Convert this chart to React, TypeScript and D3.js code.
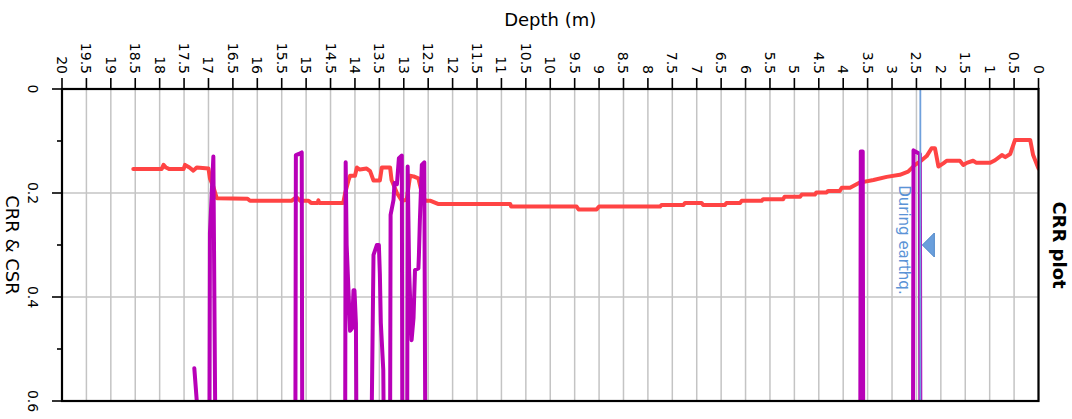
import React from "react";
import * as d3 from "d3";

// ---- Data ----
const depthTicks: number[] = [20, 19.5, 19, 18.5, 18, 17.5, 17, 16.5, 16, 15.5, 15, 14.5, 14, 13.5, 13, 12.5, 12, 11.5, 11, 10.5, 10, 9.5, 9, 8.5, 8, 7.5, 7, 6.5, 6, 5.5, 5, 4.5, 4, 3.5, 3, 2.5, 2, 1.5, 1, 0.5, 0];
const valueMajorTicks: number[] = [0, 0.2, 0.4, 0.6];
const valueMinorTicks: number[] = [0.1, 0.3, 0.5];
const valueGrid: number[] = [0.2, 0.4];

// CRR (red): [depth, value]
const crrDepth: number[] = [18.54, 17.96, 17.92, 17.87, 17.8, 17.51, 17.48, 17.39, 17.31, 17.24, 17.0, 16.97, 16.9, 16.83, 16.2, 16.15, 15.3, 15.2, 15.12, 14.95, 14.9, 14.76, 14.75, 14.73, 14.24, 14.2, 14.13, 14.1, 14.0, 13.96, 13.9, 13.76, 13.69, 13.62, 13.49, 13.45, 13.28, 13.25, 13.14, 13.04, 12.94, 12.87, 12.8, 12.7, 12.63, 12.56, 12.45, 12.3, 10.82, 10.8, 9.46, 9.42, 9.05, 9.0, 7.75, 7.72, 7.27, 7.24, 6.9, 6.87, 6.42, 6.39, 6.11, 6.08, 5.67, 5.64, 5.23, 5.2, 4.88, 4.85, 4.58, 4.55, 4.34, 4.31, 4.07, 4.03, 3.86, 3.66, 3.38, 3.11, 2.84, 2.67, 2.53, 2.43, 2.29, 2.19, 2.12, 2.05, 1.95, 1.88, 1.61, 1.54, 1.47, 1.34, 1.27, 0.99, 0.89, 0.75, 0.68, 0.58, 0.48, 0.17, 0.11, 0.0];
const crrValue: number[] = [0.154, 0.154, 0.146, 0.151, 0.154, 0.154, 0.146, 0.151, 0.157, 0.151, 0.153, 0.172, 0.188, 0.21, 0.211, 0.215, 0.215, 0.208, 0.215, 0.215, 0.219, 0.219, 0.214, 0.219, 0.219, 0.2, 0.175, 0.167, 0.167, 0.151, 0.155, 0.153, 0.158, 0.176, 0.176, 0.151, 0.151, 0.175, 0.2, 0.215, 0.213, 0.167, 0.168, 0.172, 0.2, 0.215, 0.215, 0.221, 0.221, 0.226, 0.226, 0.2315, 0.2315, 0.226, 0.226, 0.223, 0.223, 0.219, 0.219, 0.223, 0.223, 0.219, 0.219, 0.215, 0.215, 0.212, 0.212, 0.207, 0.207, 0.203, 0.203, 0.199, 0.199, 0.196, 0.196, 0.19, 0.19, 0.18, 0.175, 0.169, 0.165, 0.159, 0.146, 0.14, 0.129, 0.114, 0.114, 0.149, 0.143, 0.138, 0.138, 0.146, 0.142, 0.138, 0.142, 0.142, 0.137, 0.127, 0.131, 0.125, 0.098, 0.098, 0.127, 0.153];

// CSR (purple): [depth, value]; values above 0.6 fall outside the plot
const csrDepth: number[] = [17.29, 17.2, 16.98, 16.97, 16.9, 16.86, 15.22, 15.21, 15.15, 15.09, 15.08, 14.2, 14.19, 14.17, 14.1, 14.06, 14.03, 14.01, 13.98, 13.97, 13.66, 13.62, 13.55, 13.51, 13.49, 13.47, 13.42, 13.41, 13.28, 13.27, 13.21, 13.19, 13.14, 13.1, 13.04, 13.03, 12.93, 12.92, 12.89, 12.84, 12.8, 12.77, 12.7, 12.69, 12.67, 12.63, 12.58, 12.56, 3.65, 3.64, 3.6, 3.59, 2.57, 2.56, 2.43, 2.42];
const csrValue: number[] = [0.537, 0.65, 0.65, 0.277, 0.13, 0.65, 0.65, 0.127, 0.125, 0.122, 0.65, 0.65, 0.141, 0.3, 0.465, 0.46, 0.387, 0.387, 0.45, 0.65, 0.65, 0.319, 0.3, 0.3, 0.355, 0.45, 0.54, 0.65, 0.65, 0.242, 0.213, 0.181, 0.183, 0.133, 0.128, 0.65, 0.65, 0.149, 0.351, 0.483, 0.44, 0.348, 0.345, 0.32, 0.252, 0.146, 0.141, 0.65, 0.65, 0.12, 0.12, 0.65, 0.65, 0.118, 0.125, 0.65];

const quakeDepth = 2.42;
const quakeMarkerValue = 0.3;
const quakeLabel = "During earthq.";

const W = 1072;
const H = 419;
const FONT = "'DejaVu Sans', Verdana, sans-serif";

export default function App() {
  const left = 62, right = 1038.5, top = 89, bottom = 401;
  const x = d3.scaleLinear().domain([20, 0]).range([left, right]);
  const y = d3.scaleLinear().domain([0, 0.6]).range([top, bottom]);

  const crr: [number, number][] = crrDepth.map((d, i) => [d, crrValue[i]]);
  const csr: [number, number][] = csrDepth.map((d, i) => [d, csrValue[i]]);
  const line = d3.line<[number, number]>().x((p) => x(p[0])).y((p) => y(p[1]));

  const qx = x(quakeDepth);
  const qy = y(quakeMarkerValue);

  return (
    <svg width={W} height={H} style={{ position: "absolute", left: 0, top: 0, display: "block", background: "#fff" }} fontFamily={FONT}>
      <defs>
        <clipPath id="plotclip">
          <rect x={left} y={top} width={right - left} height={bottom - top} />
        </clipPath>
      </defs>
      {/* grid */}
      {depthTicks.map((t) => (
        <line key={"gx" + t} x1={x(t)} x2={x(t)} y1={top} y2={bottom} stroke="#c4c4c4" strokeWidth={1.5} />
      ))}
      {valueGrid.map((t) => (
        <line key={"gy" + t} x1={left} x2={right} y1={y(t)} y2={y(t)} stroke="#c4c4c4" strokeWidth={1.5} />
      ))}
      {/* series */}
      <g clipPath="url(#plotclip)">
        <path d={line(crr) || ""} fill="none" stroke="#ff4444" strokeWidth={4} strokeLinejoin="round" strokeLinecap="round" />
        <path d={line(csr) || ""} fill="none" stroke="#b800b8" strokeWidth={4} strokeLinejoin="round" strokeLinecap="round" />
        <line x1={qx} x2={qx} y1={top} y2={bottom} stroke="#6fa0dc" strokeWidth={1.8} />
        <path d={`M${qx + 2},${qy} L${qx + 14},${qy - 12} L${qx + 14},${qy + 12} Z`} fill="#6a9fdc" stroke="#4f87c9" strokeWidth={1} />
      </g>
      <text transform={`translate(${qx - 16},${y(0.185)}) rotate(90)`} fontSize={15} fill="#5b93d6" dominantBaseline="central" textAnchor="start">{quakeLabel}</text>
      {/* frame */}
      <rect x={left} y={top} width={right - left} height={bottom - top} fill="none" stroke="#000" strokeWidth={2.2} />
      {/* top axis ticks & labels */}
      {depthTicks.map((t) => (
        <g key={"tx" + t}>
          <line x1={x(t)} x2={x(t)} y1={top - 11} y2={top} stroke="#000" strokeWidth={1.6} />
          <text transform={`translate(${x(t)},${top - 15}) rotate(90)`} fontSize={14} textAnchor="end" dominantBaseline="central" fill="#000">{String(t)}</text>
        </g>
      ))}
      {/* left axis ticks & labels */}
      {valueMajorTicks.map((t) => (
        <g key={"ty" + t}>
          <line x1={left - 10} x2={left} y1={y(t)} y2={y(t)} stroke="#000" strokeWidth={1.6} />
          <text transform={`translate(${33},${y(t)}) rotate(90)`} fontSize={14} textAnchor="middle" dominantBaseline="central" fill="#000">{String(t)}</text>
        </g>
      ))}
      {valueMinorTicks.map((t) => (
        <line key={"tm" + t} x1={left - 5} x2={left} y1={y(t)} y2={y(t)} stroke="#000" strokeWidth={1.6} />
      ))}
      {/* titles */}
      <text x={(left + right) / 2} y={26} fontSize={18} textAnchor="middle" fill="#000">Depth (m)</text>
      <text transform={`translate(${12},${(top + bottom) / 2}) rotate(90)`} fontSize={18} textAnchor="middle" dominantBaseline="central" fill="#000">CRR &amp; CSR</text>
      <text transform={`translate(${1059},${(top + bottom) / 2}) rotate(90)`} fontSize={18} fontWeight="bold" textAnchor="middle" dominantBaseline="central" fill="#000">CRR plot</text>
    </svg>
  );
}
